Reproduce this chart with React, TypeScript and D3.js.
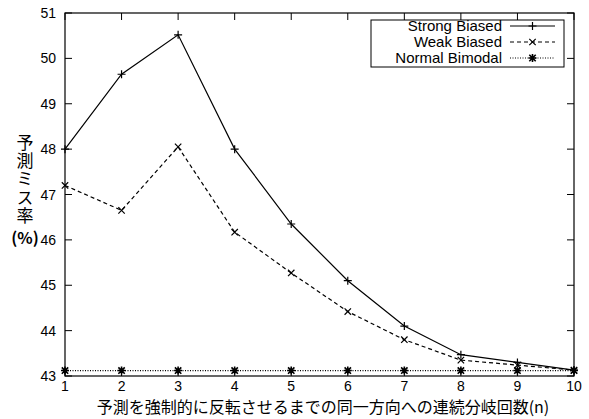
import React from "react";
import * as d3 from "d3";

const W = 589;
const H = 419;
const Margin = { top: 13, right: 15, bottom: 43, left: 65 };

const runs = [1, 2, 3, 4, 5, 6, 7, 8, 9, 10];
const strongBiased = [48.0, 49.65, 50.52, 48.0, 46.35, 45.1, 44.1, 43.47, 43.3, 43.13];
const weakBiased = [47.2, 46.65, 48.05, 46.17, 45.27, 44.42, 43.8, 43.35, 43.24, 43.13];
const normalBimodal = [43.12, 43.12, 43.12, 43.12, 43.12, 43.12, 43.12, 43.12, 43.12, 43.12];
const yTicks = [43, 44, 45, 46, 47, 48, 49, 50, 51];
const yTitle = "予測ミス率";
const yUnit = "(%)";
const xTitle = "予測を強制的に反転させるまでの同一方向への連続分岐回数(n)";

const series = [
  { name: "Strong Biased", values: strongBiased, dash: "none", marker: "plus" },
  { name: "Weak Biased", values: weakBiased, dash: "4,3", marker: "cross" },
  { name: "Normal Bimodal", values: normalBimodal, dash: "1,1.5", marker: "star" },
];

const sans = "'Liberation Sans', Arial, sans-serif";
const cjk = "'Noto Sans CJK JP', sans-serif";

const Marker = ({ x, y, type }: { x: number; y: number; type: string }) => {
  const s = 4;
  const d = 3.2;
  const plus = `M${x - s},${y}H${x + s}M${x},${y - s}V${y + s}`;
  const cross = `M${x - d},${y - d}L${x + d},${y + d}M${x - d},${y + d}L${x + d},${y - d}`;
  const path = type === "plus" ? plus : type === "cross" ? cross : plus + cross;
  return <path d={path} stroke="black" strokeWidth={type === "star" ? 1.6 : 1.2} fill="none" />;
};

const App = () => {
  const x = d3
    .scaleLinear()
    .domain([1, 10])
    .range([Margin.left, W - Margin.right]);
  const y = d3
    .scaleLinear()
    .domain([43, 51])
    .range([H - Margin.bottom, Margin.top]);

  const line = d3
    .line<number>()
    .x((_, i) => x(runs[i]))
    .y((v) => y(v));

  const x0 = x.range()[0];
  const x1 = x.range()[1];
  const y0 = y.range()[0];
  const y1 = y.range()[1];

  const legendRows = [26, 42, 58];

  return (
    <svg
      width={W}
      height={H}
      style={{ position: "absolute", left: 0, top: 0, background: "white" }}
    >
      <rect x={0} y={0} width={W} height={H} fill="white" />
      {/* ticks */}
      {yTicks.map((t) => (
        <g key={"y" + t}>
          <line x1={x0} x2={x0 + 7} y1={y(t)} y2={y(t)} stroke="black" />
          <line x1={x1} x2={x1 - 7} y1={y(t)} y2={y(t)} stroke="black" />
          <text
            x={x0 - 9}
            y={y(t)}
            dy="0.36em"
            textAnchor="end"
            style={{ fontFamily: sans, fontSize: 14 }}
          >
            {t}
          </text>
        </g>
      ))}
      {runs.map((t) => (
        <g key={"x" + t}>
          <line x1={x(t)} x2={x(t)} y1={y0} y2={y0 - 7} stroke="black" />
          <line x1={x(t)} x2={x(t)} y1={y1} y2={y1 + 7} stroke="black" />
          <text
            x={x(t)}
            y={y0 + 15}
            textAnchor="middle"
            style={{ fontFamily: sans, fontSize: 14 }}
          >
            {t}
          </text>
        </g>
      ))}
      {/* series */}
      {series.map((s) => (
        <g key={s.name}>
          <path
            d={line(s.values) || ""}
            fill="none"
            stroke="black"
            strokeWidth={1.2}
            strokeDasharray={s.dash}
          />
          {s.values.map((v, i) => (
            <Marker key={i} x={x(runs[i])} y={y(v)} type={s.marker} />
          ))}
        </g>
      ))}
      {/* legend */}
      <rect x={371} y={20} width={193} height={47} fill="white" stroke="black" strokeWidth={1} />
      {series.map((s, i) => (
        <g key={"lg" + s.name}>
          <text
            x={502}
            y={legendRows[i]}
            dy="0.36em"
            textAnchor="end"
            style={{ fontFamily: sans, fontSize: 15 }}
          >
            {s.name}
          </text>
          <line
            x1={510}
            x2={555}
            y1={legendRows[i]}
            y2={legendRows[i]}
            stroke="black"
            strokeWidth={1.2}
            strokeDasharray={s.dash}
          />
          <Marker x={532.5} y={legendRows[i]} type={s.marker} />
        </g>
      ))}
      {/* frame */}
      <rect x={x0} y={y1} width={x1 - x0} height={y0 - y1} fill="none" stroke="black" strokeWidth={1.2} />
      {/* y label, written vertically */}
      <text
        x={25}
        y={134}
        style={{
          fontFamily: cjk,
          fontSize: 17,
          writingMode: "vertical-rl",
          textOrientation: "upright",
          letterSpacing: 1.2,
        }}
      >
        {yTitle}
      </text>
      <text
        x={25}
        y={238}
        dy="0.36em"
        textAnchor="middle"
        style={{ fontFamily: cjk, fontSize: 16, fontWeight: "bold" }}
      >
        {yUnit}
      </text>
      {/* x title */}
      <text
        x={323}
        y={407}
        dy="0.36em"
        textAnchor="middle"
        style={{ fontFamily: cjk, fontSize: 16 }}
      >
        {xTitle}
      </text>
    </svg>
  );
};

export default App;
